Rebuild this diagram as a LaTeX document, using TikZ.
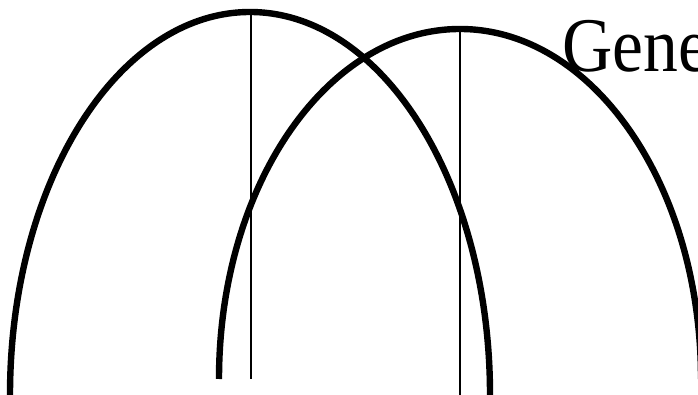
\documentclass[tikz,border=0pt]{standalone}
\usepackage{fontspec}
\setmainfont{Liberation Serif}
\newfontfamily\titlefont[FakeStretch=0.9]{Liberation Serif}
\usetikzlibrary{positioning}

\begin{document}
\begin{tikzpicture}[
  x=0.75pt, y=0.75pt,
  % arch and axis styles
  arch/.style={line width=4.8pt, draw=black},
  axis/.style={line width=1.5pt, draw=black},
  label/.style={font=\titlefont\fontsize{58}{62}\selectfont, inner sep=0pt, anchor=base west}
]

% Frame of the picture
\useasboundingbox (0,0) rectangle (698,395);

% Foot points of the two arches
\coordinate (leftfoot) at (10,0);
\coordinate (rightfoot) at (219,16);

% Arches
\draw[arch] (leftfoot) arc[start angle=180, end angle=0, x radius=240, y radius=383];
\draw[arch] (rightfoot) arc[start angle=180, end angle=0, x radius=241, y radius=350];

% Centre lines
\coordinate (lefttop) at (251,383);
\coordinate (leftbase) at (251,16);
\coordinate (righttop) at (460,366);
\coordinate (rightbase) at (460,0);
\draw[axis] (lefttop) -- (leftbase);
\draw[axis] (righttop) -- (rightbase);

% Title text
\node[label] (title) at (562,323) {Gene};

\end{tikzpicture}
\end{document}
